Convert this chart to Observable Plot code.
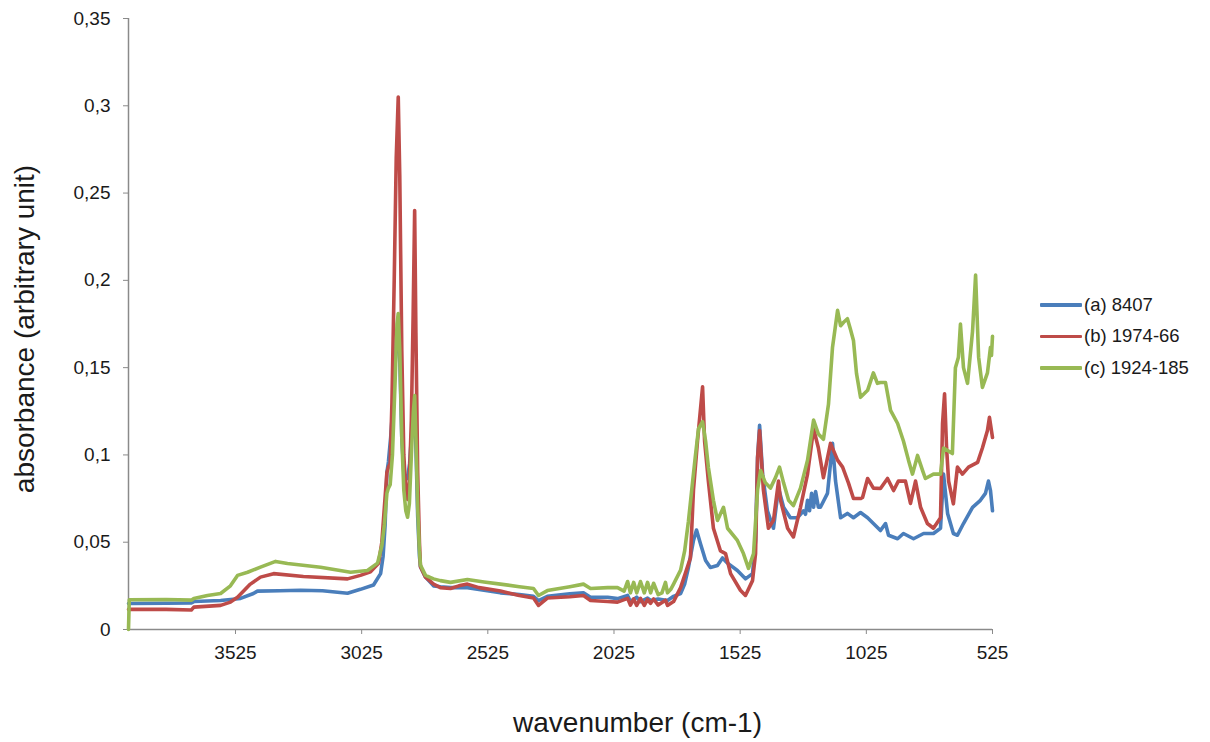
<!DOCTYPE html>
<html>
<head>
<meta charset="utf-8">
<script src="https://cdn.jsdelivr.net/npm/d3@7"></script>
<script src="https://cdn.jsdelivr.net/npm/@observablehq/plot@0.6"></script>
<style>
  html, body { margin: 0; padding: 0; background: #fff; }
  #wrap { position: relative; width: 1210px; height: 742px; font-family: "Liberation Sans", Arial, sans-serif; }
  #legend { position: absolute; left: 1040px; top: 289px; font-size: 18.5px; color: #1a1a1a; }
  #legend .row { height: 31.5px; display: flex; align-items: center; white-space: nowrap; }
  #legend .sw { width: 42px; height: 3.5px; margin-right: 2px; border-radius: 1px; }
</style>
</head>
<body>
<div id="wrap"><div id="legend"></div></div>
<script>
// ---- data ----
const seriesNames = ["(a) 8407", "(b) 1974-66", "(c) 1924-185"];
const seriesColors = ["#4a7ebb", "#be4b48", "#98b954"];
const xTicks = [3525, 3025, 2525, 2025, 1525, 1025, 525];
const yTicks = [0, 0.05, 0.1, 0.15, 0.2, 0.25, 0.3, 0.35];
const xLabel = "wavenumber (cm-1)";
const yLabel = "absorbance (arbitrary unit)";

// [wavenumber, absorbance]
const spectrumA = [
  [3949,0.0149],[3800,0.015],[3700,0.0152],[3690,0.016],[3584,0.0166],[3505,0.0178],[3454,0.0206],[3438,0.022],
  [3350,0.0222],[3267,0.0225],[3180,0.0222],[3081,0.0208],[3030,0.023],[2978,0.0255],[2950,0.032],[2940,0.042],
  [2932,0.06],[2925,0.09],[2919,0.096],[2910,0.11],[2900,0.13],[2893,0.15],[2885,0.17],[2880,0.175],[2874,0.155],
  [2866,0.11],[2858,0.09],[2850,0.086],[2843,0.087],[2835,0.095],[2828,0.11],[2820,0.125],[2815,0.13],[2810,0.105],
  [2803,0.065],[2796,0.042],[2792,0.036],[2772,0.03],
  [2740,0.025],[2713,0.0245],[2673,0.024],[2606,0.024],[2540,0.0225],[2475,0.021],[2400,0.02],[2344,0.019],[2324,0.0165],[2289,0.019],
  [2200,0.0205],[2146,0.021],[2118,0.0185],[2050,0.0185],[2011,0.0177],[1971,0.0195],[1960,0.016],[1935,0.0185],[1920,0.016],
  [1892,0.018],[1880,0.0166],[1850,0.0175],[1813,0.0166],[1789,0.019],[1761,0.0206],[1745,0.026],[1730,0.0355],[1710,0.051],
  [1698,0.057],[1690,0.053],[1682,0.049],[1662,0.0395],[1643,0.0355],[1615,0.0367],[1595,0.041],[1575,0.038],
  [1536,0.0338],[1504,0.029],[1476,0.032],[1464,0.051],[1456,0.0985],[1448,0.117],[1436,0.089],[1417,0.068],
  [1393,0.058],[1373,0.081],[1353,0.07],[1326,0.064],[1298,0.064],[1274,0.068],[1266,0.066],[1258,0.074],
  [1250,0.068],[1242,0.078],[1234,0.07],[1226,0.079],[1215,0.07],[1207,0.07],[1179,0.078],[1159,0.1066],
  [1147,0.085],[1127,0.064],[1100,0.0665],[1076,0.064],[1048,0.067],[1020,0.064],[997,0.0607],[969,0.0567],
  [949,0.0607],[937,0.054],[901,0.052],[878,0.055],[838,0.052],[798,0.055],[759,0.055],[731,0.058],[719,0.089],
  [703,0.0665],[680,0.055],[664,0.054],[640,0.0607],[604,0.07],[573,0.074],[553,0.078],[541,0.085],[533,0.0796],[525,0.068]
];
const spectrumB = [
  [3949,0.0115],[3800,0.0115],[3700,0.0112],[3690,0.0128],[3584,0.0138],[3545,0.0157],[3517,0.0185],[3466,0.026],
  [3426,0.030],[3374,0.032],[3256,0.0304],[3081,0.029],[3030,0.031],[2990,0.033],[2958,0.038],[2945,0.05],
  [2935,0.07],[2925,0.09],[2919,0.093],[2912,0.095],[2905,0.13],[2896,0.2],[2888,0.27],[2880,0.305],[2874,0.26],
  [2866,0.16],[2858,0.1],[2850,0.08],[2843,0.0745],[2836,0.085],[2828,0.12],[2821,0.18],[2815,0.24],[2810,0.17],
  [2803,0.09],[2796,0.05],[2792,0.036],[2772,0.03],[2740,0.026],[2713,0.024],[2673,0.0235],[2640,0.025],
  [2606,0.026],[2560,0.024],[2475,0.022],[2400,0.0195],[2344,0.018],[2324,0.0138],[2289,0.018],[2200,0.0188],[2146,0.0195],[2118,0.0166],
  [2050,0.016],[2011,0.0157],[1971,0.0178],[1960,0.014],[1947,0.0175],[1935,0.0138],[1920,0.0178],[1905,0.0138],
  [1892,0.0172],[1880,0.015],[1868,0.0175],[1850,0.014],[1821,0.0168],[1813,0.0138],[1789,0.016],[1761,0.024],
  [1722,0.041],[1710,0.08],[1694,0.108],[1674,0.139],[1666,0.108],[1651,0.085],[1631,0.058],[1603,0.045],
  [1583,0.0435],[1563,0.032],[1524,0.0225],[1504,0.0195],[1476,0.028],[1464,0.0435],[1456,0.0985],[1448,0.114],
  [1433,0.08],[1413,0.058],[1393,0.0625],[1373,0.085],[1365,0.074],[1337,0.058],[1314,0.053],[1286,0.07],
  [1258,0.089],[1234,0.115],[1215,0.104],[1195,0.087],[1167,0.1066],[1139,0.097],[1119,0.093],[1096,0.084],
  [1076,0.075],[1048,0.075],[1040,0.0756],[1020,0.0865],[997,0.081],[969,0.0808],[941,0.0865],[917,0.0796],
  [898,0.085],[870,0.085],[850,0.0722],[830,0.085],[810,0.07],[783,0.0607],[759,0.058],[731,0.064],[723,0.118],
  [715,0.135],[707,0.104],[699,0.085],[680,0.072],[664,0.093],[644,0.089],[620,0.093],[584,0.0957],[565,0.104],
  [545,0.114],[537,0.1215],[525,0.11]
];
const spectrumC = [
  [3949,0],[3946,0.017],[3800,0.0172],[3700,0.0168],[3690,0.0178],[3636,0.0195],[3584,0.0206],[3545,0.025],
  [3517,0.031],[3477,0.0328],[3426,0.0357],[3366,0.039],[3319,0.0378],[3188,0.0357],[3069,0.0328],[3002,0.0338],
  [2962,0.038],[2945,0.048],[2935,0.06],[2925,0.078],[2919,0.081],[2912,0.083],[2903,0.1],[2893,0.14],[2885,0.175],
  [2880,0.181],[2874,0.16],[2866,0.11],[2858,0.08],[2850,0.068],[2843,0.0643],[2836,0.072],[2828,0.1],[2820,0.125],
  [2815,0.134],[2810,0.11],[2803,0.07],[2796,0.045],[2792,0.037],[2772,0.031],[2740,0.029],[2713,0.028],
  [2673,0.027],[2606,0.0286],[2540,0.0272],[2475,0.026],[2400,0.0245],[2344,0.0235],[2324,0.0195],[2289,0.0223],[2200,0.0245],[2146,0.026],[2118,0.0235],
  [2050,0.024],[2011,0.024],[1985,0.022],[1971,0.0275],[1960,0.021],[1947,0.027],[1935,0.021],[1920,0.0275],
  [1905,0.021],[1892,0.027],[1880,0.021],[1868,0.0265],[1850,0.02],[1835,0.021],[1821,0.027],[1813,0.021],
  [1800,0.023],[1789,0.026],[1761,0.034],[1745,0.045],[1730,0.062],[1714,0.084],[1702,0.10],[1690,0.115],
  [1674,0.119],[1662,0.108],[1651,0.093],[1631,0.074],[1615,0.0625],[1591,0.07],[1575,0.058],[1536,0.051],
  [1512,0.0435],[1492,0.035],[1472,0.0435],[1456,0.08],[1444,0.091],[1425,0.084],[1405,0.081],[1385,0.087],
  [1369,0.093],[1353,0.084],[1333,0.074],[1314,0.071],[1286,0.081],[1258,0.097],[1234,0.12],[1215,0.112],
  [1195,0.109],[1175,0.129],[1159,0.1617],[1139,0.1828],[1127,0.174],[1115,0.176],[1100,0.178],[1088,0.172],
  [1076,0.1656],[1064,0.1467],[1048,0.133],[1020,0.137],[997,0.147],[981,0.141],[969,0.1415],[949,0.1415],
  [929,0.1255],[901,0.118],[878,0.108],[858,0.097],[842,0.089],[822,0.0997],[802,0.091],[791,0.0865],[759,0.089],
  [731,0.089],[719,0.104],[703,0.1025],[684,0.1008],[672,0.15],[660,0.156],[652,0.175],[640,0.15],[624,0.141],
  [604,0.171],[592,0.203],[580,0.156],[565,0.1387],[545,0.147],[533,0.1617],[529,0.157],[525,0.168]
];

const spectra = [spectrumA, spectrumB, spectrumC];
const rows = spectra.map((s, i) => s.map(([w, a]) => ({w, a, s: seriesNames[i]})));

const fmtY = d => d === 0 ? "0" : String(+d.toFixed(2)).replace(".", ",");
const axisGray = "#8a8a8a";
const fontFamily = '"Liberation Sans", Arial, sans-serif';

const chart = Plot.plot({
  width: 1210,
  height: 742,
  marginLeft: 128,
  marginRight: 218,
  marginTop: 18,
  marginBottom: 113,
  style: {fontFamily, fontSize: "19px", color: "#1a1a1a", background: "transparent"},
  x: {domain: [3949, 525]},
  y: {domain: [0, 0.35]},
  color: {domain: seriesNames, range: seriesColors},
  marks: [
    Plot.axisY({ticks: yTicks, tickFormat: fmtY, tickSize: 5, tickPadding: 13, stroke: axisGray, fill: "#1a1a1a", label: null, fontSize: 19}),
    Plot.axisX({ticks: xTicks, tickFormat: d => String(d), tickSize: 5, tickPadding: 11, stroke: axisGray, fill: "#1a1a1a", label: null, fontSize: 19}),
    Plot.ruleX([3949], {stroke: axisGray, strokeWidth: 1.5}),
    Plot.ruleY([0], {stroke: axisGray, strokeWidth: 1.5}),
    ...rows.map(r => Plot.line(r, {x: "w", y: "a", stroke: "s", strokeWidth: 3.6, strokeLinejoin: "round", strokeLinecap: "round"})),
    Plot.text([xLabel], {frameAnchor: "bottom", textAnchor: "middle", lineAnchor: "middle", dx: 77, dy: 94, fontSize: 28, fill: "#1a1a1a"}),
    Plot.text([yLabel], {frameAnchor: "left", textAnchor: "middle", lineAnchor: "middle", dx: -103, dy: 5, rotate: -90, fontSize: 28, fill: "#1a1a1a"})
  ]
});
document.getElementById("wrap").prepend(chart);
chart.style.position = "absolute";
chart.style.left = "0";
chart.style.top = "0";

// legend
const legend = document.getElementById("legend");
legend.style.zIndex = 2;
seriesNames.forEach((name, i) => {
  const row = document.createElement("div");
  row.className = "row";
  const sw = document.createElement("div");
  sw.className = "sw";
  sw.style.background = seriesColors[i];
  const t = document.createElement("span");
  t.textContent = name;
  row.appendChild(sw);
  row.appendChild(t);
  legend.appendChild(row);
});
</script>
</body>
</html>
